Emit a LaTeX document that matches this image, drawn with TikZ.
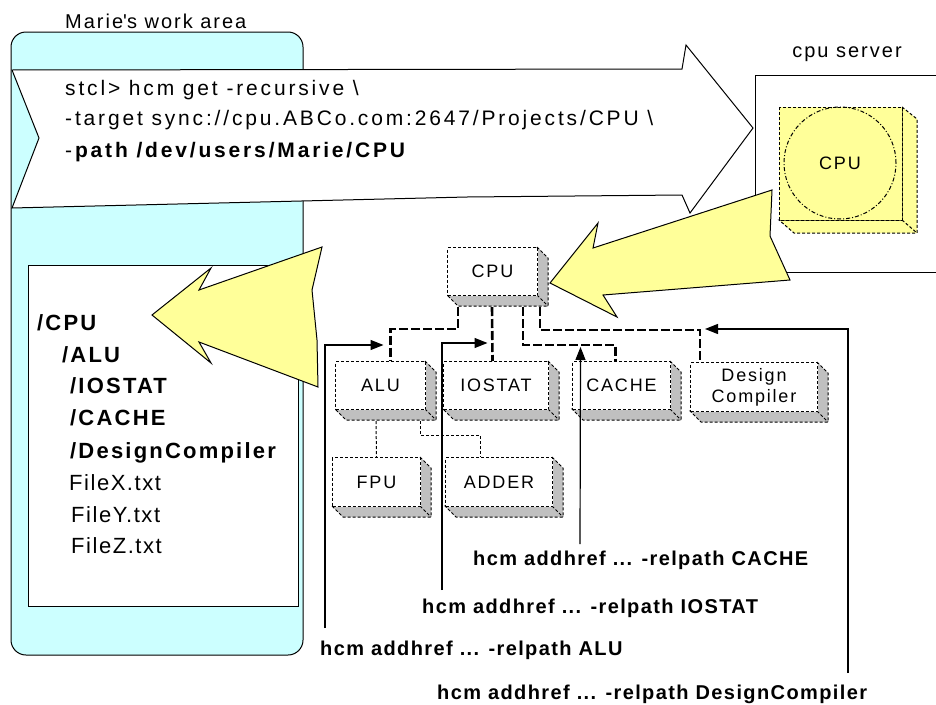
\documentclass[tikz,border=0pt]{standalone}
\usepackage{fontspec}
\setmainfont{Liberation Sans}[LetterSpace=10]
\usetikzlibrary{arrows.meta}
\definecolor{wacyan}{HTML}{CCFFFF}
\definecolor{yelw}{HTML}{FFFF99}
\definecolor{sidegray}{HTML}{C0C0C0}
\tikzset{
  treebox/.style={draw=black, fill=white, line width=1pt, dash pattern=on 3pt off 2pt,
    inner sep=0pt, align=center, font=\fontsize{18}{21}\selectfont},
  thindash/.style={line width=1pt, dash pattern=on 3pt off 2pt},
  hier/.style={line width=2.6pt, dash pattern=on 9pt off 3pt},
  refarrow/.style={line width=1.2pt, -{Triangle[length=13pt,width=10pt]}},
  cmdlabel/.style={anchor=base west, inner sep=0pt,
    font=\bfseries\fontsize{20}{24}\selectfont\addfontfeatures{LetterSpace=7}},
  listitem/.style={anchor=base west, inner sep=0pt, font=\fontsize{22}{26}\selectfont},
  fileitem/.style={listitem, font=\fontsize{22}{26}\selectfont\addfontfeatures{LetterSpace=7}},
  plain/.style={anchor=base west, inner sep=0pt,
    font=\fontsize{21}{25}\selectfont\addfontfeatures{LetterSpace=13.5}},
  caption/.style={inner sep=0pt, font=\fontsize{20}{24}\selectfont}
}
% 3D box: name, x, y, width, height, text
\newcommand\solidbox[6]{%
  \filldraw[fill=sidegray, thindash] (#2+#4,#3) -- ++(11,11) -- ++(0,#5) -- ++(-#4,0)
    -- (#2,#3+#5) -- (#2+#4,#3+#5) -- cycle;
  \draw[thindash] (#2+#4,#3+#5) -- ++(11,11);
  \node[treebox, minimum width=#4pt, minimum height=#5pt, anchor=north west] (#1) at (#2,#3) {#6};
}
\begin{document}
\begin{tikzpicture}[x=1pt, y=-1pt]
\useasboundingbox (0,0) rectangle (936,704);

% work area
\draw[fill=wacyan, line width=1pt, rounded corners=15pt] (11,32) rectangle (303,655);
\node[caption, anchor=base west] (walabel) at (65,28) {Marie\textquotesingle s work area};

% command arrow
\filldraw[fill=white, line width=1pt] (12,70) -- (682,69) -- (686,45) -- (753,128) -- (690,213)
  -- (682,195) -- (467,197) -- (12,208) -- (39,138) -- cycle;
\node[plain] (cmd1) at (65,95) {stcl> hcm get -recursive \textbackslash};
\node[plain] (cmd2) at (65,125) {-target sync://cpu.ABCo.com:2647/Projects/CPU \textbackslash};
\node[plain] (cmd3) at (65,157) {-\textbf{path /dev/users/Marie/CPU}};

% cpu server
\draw[line width=1pt] (936,75) -- (755,75) -- (755,272) -- (936,272);
\node[caption, anchor=base] (srvlabel) at (847,57) {cpu server};
\filldraw[fill=yelw, thindash] (902,107) -- (917,119) -- (917,233) -- (794,233) -- (779,220) -- (902,220) -- cycle;
\draw[thindash] (902,220) -- (917,233);
\filldraw[fill=yelw, thindash] (779,107) rectangle (902,220);
\node[circle, draw, line width=1pt, dash pattern=on 4pt off 2pt on 1pt off 2pt, minimum size=112pt,
  inner sep=0pt, font=\fontsize{18}{21}\selectfont] (srvcpu) at (840,163) {CPU};

% fetch arrow
\filldraw[fill=yelw, line width=1pt] (772,190) -- (593,248) -- (598,223) -- (550,283) -- (617,317)
  -- (603,295) -- (790,280) -- (770,236) -- cycle;

% hierarchy boxes
\solidbox{cpu}{447}{247}{90}{48}{CPU}
\solidbox{alu}{335}{361}{90}{48}{ALU}
\solidbox{iostat}{443}{361}{105}{48}{IOSTAT}
\solidbox{cache}{572}{361}{98}{48}{CACHE}
\solidbox{dc}{690}{362}{127}{49}{Design\\Compiler}
\solidbox{fpu}{332}{457}{88}{49}{FPU}
\solidbox{adder}{445}{457}{107}{49}{ADDER}

% hierarchical references
\draw[hier] ([xshift=11pt,yshift=-11pt]cpu.south west) -- ++(0,22) -| ([xshift=10pt]alu.north);
\draw[hier] ([xshift=45pt,yshift=-11pt]cpu.south west) -- ([xshift=-3.5pt]iostat.north);
\draw[hier] ([xshift=76pt,yshift=-11pt]cpu.south west) -- ++(0,38) -| ([xshift=-6pt]cache.north);
\draw[hier] ([xshift=93pt,yshift=-11pt]cpu.south west) -- ++(0,23) -| ([xshift=10pt]dc.north west);
\draw[thindash] ([xshift=41pt,yshift=-11pt]alu.south west) -- (fpu.north);
\draw[thindash] ([xshift=85pt,yshift=-11pt]alu.south west) -- ++(0,14) -| ([xshift=35pt]adder.north west);

% local copy of the tree
\draw[fill=white, line width=1pt] (28,265) rectangle (298,606);
\filldraw[fill=yelw, line width=1pt] (322,247) -- (199,290) -- (211,268) -- (152,315) -- (211,363)
  -- (199,342) -- (318,387) -- (317,340) -- (312,290) -- cycle;
\node[listitem] (t1) at (37,330) {\textbf{/CPU}};
\node[listitem] (t2) at (62,362) {\textbf{/ALU}};
\node[listitem] (t3) at (70,393) {\textbf{/IOSTAT}};
\node[listitem] (t4) at (70,425) {\textbf{/CACHE}};
\node[listitem] (t5) at (70,458) {\textbf{/DesignCompiler}};
\node[fileitem] (t6) at (69,490) {FileX.txt};
\node[fileitem] (t7) at (71,522) {FileY.txt};
\node[fileitem] (t8) at (71,553) {FileZ.txt};

% addhref commands
\node[cmdlabel] (lcache) at (473,565) {hcm addhref ... -relpath CACHE};
\node[cmdlabel] (liostat) at (422,613) {hcm addhref ... -relpath IOSTAT};
\node[cmdlabel] (lalu) at (320,655) {hcm addhref ... -relpath ALU};
\node[cmdlabel] (ldc) at (437,699) {hcm addhref ... -relpath DesignCompiler};

\coordinate (tipalu) at ([xshift=3pt,yshift=16pt]alu.north);
\coordinate (tipiostat) at ([xshift=-8.5pt,yshift=18pt]iostat.north);
\coordinate (tipcache) at ([xshift=-41pt,yshift=14pt]cache.north);
\coordinate (tipdc) at ([xshift=15pt,yshift=33pt]dc.north west);
\draw[refarrow] ([xshift=5pt,yshift=27pt]lalu.base west) |- (tipalu);
\draw[refarrow] ([xshift=20pt,yshift=23pt]liostat.base west) |- (tipiostat);
\draw[refarrow] ([xshift=107pt,yshift=21pt]lcache.base west) -- (tipcache);
\draw[refarrow] ([xshift=411pt,yshift=26pt]ldc.base west) |- (tipdc);
\end{tikzpicture}
\end{document}
